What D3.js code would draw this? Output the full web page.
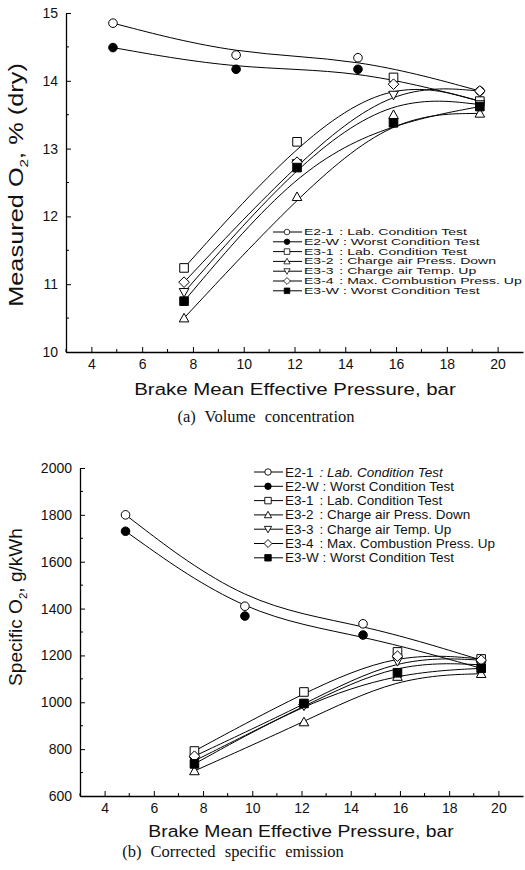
<!DOCTYPE html>
<html>
<head>
<meta charset="utf-8">
<script src="https://cdn.jsdelivr.net/npm/d3@7"></script>
<style>
  body { margin: 0; background: #fff; }
  text { font-family: Arial, "Liberation Sans", sans-serif; fill: #111; }
</style>
</head>
<body>
<div id="graph"></div>
<script>
// brake mean effective pressure (bar) for the two engine groups
var bmepE2 = [4.85, 9.7, 14.5, 19.3];
var bmepE3 = [7.65, 12.1, 15.9, 19.3];

var codes = ["E2-1", "E2-W", "E3-1", "E3-2", "E3-3", "E3-4", "E3-W"];
var descs = ["Lab. Condition Test", "Worst Condition Test", "Lab. Condition Test",
  "Charge air Press. Down", "Charge air Temp. Up", "Max. Combustion Press. Up", "Worst Condition Test"];

// (a) measured O2, % (dry)
var o2E21 = [14.85, 14.38, 14.34, 13.85];
var o2E2W = [14.49, 14.17, 14.17, 13.70];
var o2E31 = [11.24, 13.10, 14.05, 13.70];
var o2E32 = [10.50, 12.29, 13.50, 13.52];
var o2E33 = [10.88, 12.78, 13.79, 13.65];
var o2E34 = [11.03, 12.80, 13.95, 13.85];
var o2E3W = [10.75, 12.72, 13.38, 13.62];

// (b) specific O2, g/kWh
var spE21 = [1800, 1410, 1335, 1180];
var spE2W = [1730, 1368, 1287, 1145];
var spE31 = [792, 1044, 1215, 1185];
var spE32 = [707, 916, 1110, 1122];
var spE33 = [750, 985, 1175, 1160];
var spE34 = [770, 990, 1197, 1180];
var spE3W = [737, 995, 1126, 1145];

var xTicks = [4, 6, 8, 10, 12, 14, 16, 18, 20];
var xMinor = [3, 5, 7, 9, 11, 13, 15, 17, 19];
var yTicksA = [10, 11, 12, 13, 14, 15];
var yMinorA = [10.5, 11.5, 12.5, 13.5, 14.5];
var yTicksB = [600, 800, 1000, 1200, 1400, 1600, 1800, 2000];
var yMinorB = [700, 900, 1100, 1300, 1500, 1700, 1900];

var markers = ["circle", "circle", "square", "triUp", "triDown", "diamond", "square"];
var filled = [false, true, false, false, false, false, true];

var width = 525, height = 870;
var svg = d3.select("#graph").append("svg")
  .attr("width", width).attr("height", height);

function markerPath(kind) {
  var s = 4.3;
  if (kind == "circle") return d3.symbol().type(d3.symbolCircle).size(Math.PI * s * s)();
  if (kind == "square") return "M" + (-s) + "," + (-s) + "h" + (2 * s) + "v" + (2 * s) + "h" + (-2 * s) + "Z";
  if (kind == "triUp") return "M0," + (-s - 0.5) + "L" + (s + 0.5) + "," + (s - 0.5) + "L" + (-s - 0.5) + "," + (s - 0.5) + "Z";
  if (kind == "triDown") return "M0," + (s + 0.5) + "L" + (s + 0.5) + "," + (-s + 0.5) + "L" + (-s - 0.5) + "," + (-s + 0.5) + "Z";
  return "M0," + (-s - 1) + "L" + (s + 1) + ",0L0," + (s + 1) + "L" + (-s - 1) + ",0Z";
}

// stretched text helper (the scanned lettering is wider than Arial)
function label(g, x, y, size, sx, anchor, rot, sy) {
  return g.append("text")
    .attr("transform", "translate(" + x + "," + y + ")" + (rot ? " rotate(" + rot + ")" : "") +
      " scale(" + sx + "," + (sy || 1) + ")")
    .attr("text-anchor", anchor || "start")
    .style("font-size", size + "px");
}

function panel(opt) {
  var g = svg.append("g");
  var x = d3.scaleLinear().domain([3, 21]).range(opt.xRange);
  var y = d3.scaleLinear().domain(opt.yDomain).range(opt.yRange);

  var xAxis = d3.axisBottom(x).tickValues(xTicks).tickFormat(d3.format("d"))
    .tickSize(-5).tickSizeOuter(0).tickPadding(7);
  var yAxis = d3.axisLeft(y).tickValues(opt.yTicks).tickFormat(d3.format("d"))
    .tickSize(-5).tickSizeOuter(0).tickPadding(opt.yPad);

  var gx = g.append("g").attr("transform", "translate(0," + opt.yRange[0] + ")").call(xAxis);
  gx.selectAll("text").style("font-size", "14px").attr("fill", "#111");
  gx.append("g").selectAll("line").data(xMinor).enter().append("line")
    .attr("x1", function (d) {return x(d);}).attr("x2", function (d) {return x(d);})
    .attr("y1", 0).attr("y2", -3).attr("stroke", "#000");

  var gy = g.append("g").attr("transform", "translate(" + opt.xRange[0] + ",0)").call(yAxis);
  gy.selectAll("text").style("font-size", "14px").attr("fill", "#111");
  gy.append("g").selectAll("line").data(opt.yMinor).enter().append("line")
    .attr("y1", function (d) {return y(d);}).attr("y2", function (d) {return y(d);})
    .attr("x1", 0).attr("x2", 3).attr("stroke", "#000");
  g.selectAll(".domain").attr("stroke-width", 1.3);

  var line = d3.line()
    .x(function (d) {return x(d[0]);})
    .y(function (d) {return y(d[1]);})
    .curve(d3.curveBasis);

  opt.series.forEach(function (vals, i) {
    var xs = i < 2 ? bmepE2 : bmepE3;
    var pts = xs.map(function (v, j) {return [v, vals[j]];});
    g.append("path").datum(pts).attr("d", line)
      .attr("fill", "none").attr("stroke", "#000").attr("stroke-width", 1);
  });
  opt.series.forEach(function (vals, i) {
    var xs = i < 2 ? bmepE2 : bmepE3;
    g.selectAll(null).data(vals).enter().append("path")
      .attr("d", markerPath(markers[i]))
      .attr("transform", function (d, j) {return "translate(" + x(xs[j]) + "," + y(d) + ")";})
      .attr("fill", filled[i] ? "#000" : "#fff")
      .attr("stroke", "#000").attr("stroke-width", 1);
  });

  // legend
  var lg = g.append("g").attr("class", "legend");
  codes.forEach(function (c, i) {
    var ly = opt.legY + i * opt.legStep;
    var worst = c.indexOf("W") > 0;
    lg.append("line").attr("x1", opt.legX).attr("x2", opt.legX + 29)
      .attr("y1", ly).attr("y2", ly).attr("stroke", "#000").attr("stroke-width", 1);
    lg.append("path").attr("d", markerPath(markers[i]))
      .attr("transform", "translate(" + (opt.legX + 14) + "," + ly + ") scale(" + opt.legMk + ")")
      .attr("fill", filled[i] ? "#000" : "#fff").attr("stroke", "#000").attr("stroke-width", 1.2);
    var t = label(lg, opt.legX + 31, ly + opt.legSize * opt.legSy * 0.36, opt.legSize, opt.legSx, "start", 0, opt.legSy);
    t.append("tspan").text(c);
    var d = t.append("tspan").attr("x", worst ? null : opt.colonX).text((worst ? " " : "") + ": " + descs[i]);
    if (opt.italicFirst && i == 0) d.style("font-style", "italic");
  });

  // axis titles
  label(g, opt.xTitleX, opt.xTitleY, 17, opt.xTitleSx, "middle")
    .text("Brake Mean Effective Pressure, bar");
  var ty = label(g, opt.yTitleX, opt.yTitleY, opt.yTitleSize, opt.yTitleSx, "middle", -90);
  ty.append("tspan").text(opt.yTitle[0] + "O");
  ty.append("tspan").attr("dy", 5).style("font-size", "0.6em").text("2");
  ty.append("tspan").attr("dy", -5).text(opt.yTitle[1]);

  g.append("text").attr("x", opt.capX).attr("y", opt.capY)
    .attr("text-anchor", "middle")
    .style("font-family", "'Liberation Serif', 'Times New Roman', serif")
    .style("font-size", "16.5px").style("word-spacing", "5px")
    .text(opt.caption);
}

panel({
  xRange: [66, 523], yDomain: [10, 15], yRange: [352, 13],
  yTicks: yTicksA, yMinor: yMinorA, yPad: 8,
  series: [o2E21, o2E2W, o2E31, o2E32, o2E33, o2E34, o2E3W],
  legX: 273, legY: 232, legStep: 9.8, legSize: 11.5, legSx: 1.22, legSy: 0.74, legMk: 0.65, colonX: 29,
  xTitleX: 295, xTitleY: 395, xTitleSx: 1.2,
  yTitleX: 23, yTitleY: 185, yTitleSize: 19.5, yTitleSx: 1.3,
  yTitle: ["Measured ", ", % (dry)"],
  capX: 266, capY: 422, caption: "(a) Volume concentration"
});

panel({
  xRange: [80, 523], yDomain: [600, 2000], yRange: [796, 468],
  yTicks: yTicksB, yMinor: yMinorB, yPad: 8,
  series: [spE21, spE2W, spE31, spE32, spE33, spE34, spE3W],
  legX: 254, legY: 472, legStep: 14.3, legSize: 12.5, legSx: 1.08, legSy: 1, legMk: 0.75, colonX: 32, italicFirst: true,
  xTitleX: 301, xTitleY: 837, xTitleSx: 1.14,
  yTitleX: 22, yTitleY: 607, yTitleSize: 18, yTitleSx: 1.06,
  yTitle: ["Specific ", ", g/kWh"],
  capX: 233, capY: 857, caption: "(b) Corrected specific emission"
});
</script>
</body>
</html>
